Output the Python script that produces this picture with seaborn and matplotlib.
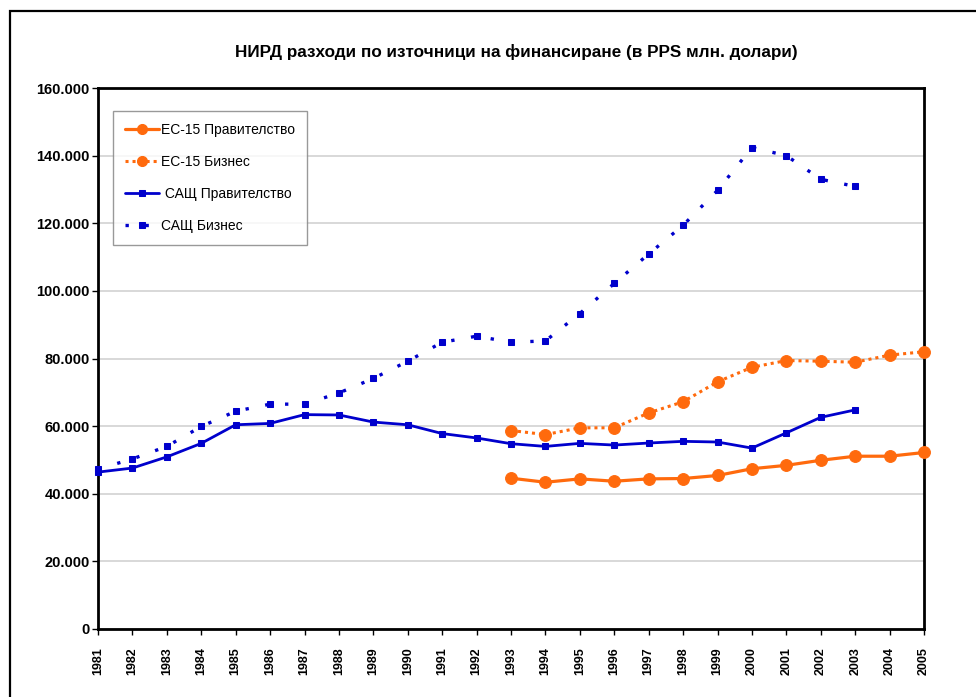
import numpy as np
import pandas as pd
import matplotlib
matplotlib.use("Agg")
import matplotlib.pyplot as plt
from matplotlib.patches import Rectangle
from matplotlib.ticker import FuncFormatter, MultipleLocator
import seaborn as sns

# ---- data ----
years = list(range(1981, 2006))
eu_years = list(range(1993, 2006))
us_years = list(range(1981, 2004))

eu_gov = [44.6, 43.4, 44.4, 43.7, 44.4, 44.5, 45.4, 47.4, 48.4, 49.9, 51.1, 51.1, 52.2]
eu_bus = [58.7, 57.5, 59.5, 59.5, 63.9, 67.2, 73.1, 77.4, 79.4, 79.2, 78.9, 81.0, 82.0]
us_gov = [46.4, 47.6, 50.9, 54.9, 60.4, 60.8, 63.4, 63.3, 61.2, 60.4, 57.8, 56.5,
          54.8, 54.0, 54.9, 54.4, 55.0, 55.5, 55.3, 53.5, 58.0, 62.6, 64.8]
us_bus = [47.3, 50.3, 54.0, 59.9, 64.4, 66.5, 66.5, 69.8, 74.1, 79.2, 84.8, 86.6,
          84.8, 85.2, 93.3, 102.2, 110.9, 119.4, 129.7, 142.4, 140.0, 133.0, 130.9]

labels = ["ЕС-15 Правителство", "ЕС-15 Бизнес", " САЩ Правителство", "САЩ Бизнес"]
title = "НИРД разходи по източници на финансиране (в PPS млн. долари)"

ORANGE = "#FF6A0D"
BLUE = "#0000CC"

sns.set_style("white")
plt.rcParams["font.family"] = ["Liberation Sans", "DejaVu Sans"]
plt.rcParams["text.color"] = "black"
plt.rcParams["xtick.color"] = "black"
plt.rcParams["ytick.color"] = "black"

fig = plt.figure(figsize=(9.76, 6.97), dpi=100)
ax = fig.add_axes([98 / 976, 1 - 629 / 697, (924 - 98) / 976, (629 - 88) / 697])

def df(xs, vs):
    return pd.DataFrame({"year": xs, "value": np.array(vs) * 1000})

sns.lineplot(data=df(eu_years, eu_gov), x="year", y="value", ax=ax, color=ORANGE,
             lw=2.3, marker="o", markersize=8.5, markeredgecolor=ORANGE,
             label=labels[0], clip_on=False, zorder=5)
sns.lineplot(data=df(eu_years, eu_bus), x="year", y="value", ax=ax, color=ORANGE,
             lw=2.2, dashes=(1, 1.3), marker="o", markersize=8.5, markeredgecolor=ORANGE,
             label=labels[1], clip_on=False, zorder=5)
sns.lineplot(data=df(us_years, us_gov), x="year", y="value", ax=ax, color=BLUE,
             lw=2.0, marker="s", markersize=4.5, markeredgecolor=BLUE,
             label=labels[2], clip_on=False, zorder=5)
sns.lineplot(data=df(us_years, us_bus), x="year", y="value", ax=ax, color=BLUE,
             lw=2.4, dashes=(1, 5), marker="s", markersize=4.5, markeredgecolor=BLUE,
             label=labels[3], clip_on=False, zorder=5)

ax.set_xlim(1981, 2005)
ax.set_ylim(0, 160000)
ax.set_xticks(years)
ax.set_xticklabels([str(y) for y in years], rotation=90, fontsize=9, fontweight="bold")
ax.yaxis.set_major_locator(MultipleLocator(20000))
ax.yaxis.set_major_formatter(FuncFormatter(lambda v, p: "0" if v == 0 else f"{v:,.0f}".replace(",", ".")))
for t in ax.get_yticklabels():
    t.set_fontsize(10.5)
    t.set_fontweight("bold")
ax.set_xlabel("")
ax.set_ylabel("")

ax.grid(axis="y", color="#d6d6d6", lw=1.3)
ax.grid(axis="x", visible=False)
ax.set_axisbelow(True)
for s in ax.spines.values():
    s.set_color("black")
    s.set_linewidth(2.0)
ax.tick_params(axis="x", direction="out", length=4, width=1, pad=9, bottom=True, colors="black")
ax.tick_params(axis="y", direction="out", length=4, width=1, pad=2, left=True, colors="black")

leg = ax.legend(loc="upper left", bbox_to_anchor=(0.018, 0.957), borderaxespad=0,
                fontsize=10, frameon=True, fancybox=False, edgecolor="#808080",
                handlelength=2.5, handletextpad=0.1, labelspacing=1.3,
                borderpad=0.85, markerscale=0.85)
leg.get_frame().set_linewidth(1.0)
for t in leg.get_texts():
    t.set_color("black")

fig.text(0.529, 1 - 52 / 697, title, ha="center", va="center", fontsize=12.3,
         fontweight="bold", color="black")

fig.add_artist(Rectangle((10 / 976, -0.1), 1.2, 1 - 11 / 697 + 0.1, transform=fig.transFigure,
                         fill=False, edgecolor="black", lw=1.6, clip_on=False))

fig.savefig("out.png", dpi=100)
